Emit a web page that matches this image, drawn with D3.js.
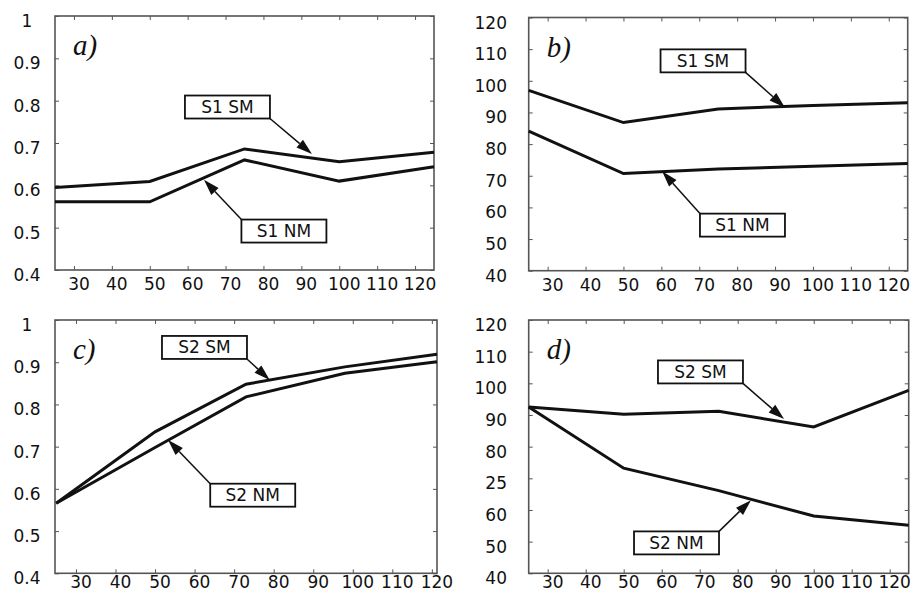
<!DOCTYPE html>
<html>
<head>
<meta charset="utf-8">
<script src="https://cdn.jsdelivr.net/npm/d3@7"></script>
<style>
  html, body { margin: 0; padding: 0; background: #fff; }
  svg { display: block; }
</style>
</head>
<body>
<svg id="chart" width="912" height="593"></svg>
<script>
// ---------- DATA ----------
const xAB = [25, 50, 75, 100, 125];
const xC  = [25, 50, 73, 98, 121.3];
const xD  = [25, 50, 75, 100, 125];

const aSM = [0.595, 0.609, 0.686, 0.656, 0.678];
const aNM = [0.561, 0.561, 0.660, 0.610, 0.644];
const bSM = [97.0, 86.8, 91.1, 92.2, 93.1];
const bNM = [84.1, 70.7, 72.1, 73.0, 73.9];
const cSM = [0.566, 0.735, 0.848, 0.889, 0.919];
const cNM = [0.566, 0.698, 0.818, 0.874, 0.901];
const dSM = [92.5, 90.2, 91.2, 86.2, 97.8];
const dNM = [92.5, 73.2, 66.1, 58.1, 55.2];

const xTicks = [30, 40, 50, 60, 70, 80, 90, 100, 110, 120];
const xTickLabels = ["30","40","50","60","70","80","90","100","110","120"];
const yTicksRatio = [0.4, 0.5, 0.6, 0.7, 0.8, 0.9, 1];
const yTickLabelsRatio = ["0.4","0.5","0.6","0.7","0.8","0.9","1"];
const yTicksPct = [40, 50, 60, 70, 80, 90, 100, 110, 120];
const yTickLabelsB = ["40","50","60","70","80","90","100","110","120"];
const yTickLabelsD = ["40","50","60","25","80","90","100","110","120"];

const panelNames = ["a", "b", "c", "d"];
const seriesNames = ["SM", "NM"];
const annotationLabels = [["S1 SM","S1 NM"],["S1 SM","S1 NM"],["S2 SM","S2 NM"],["S2 SM","S2 NM"]];
// annotation box centre (data) and arrow tip (data)
const annBox = [[[70.5,0.785],[85.4,0.492]], [[71.0,106.3],[81.4,54.4]], [[62.5,0.935],[74.7,0.585]], [[70.2,103.6],[63.9,49.6]]];
const annTip = [[[92.8,0.674],[64.3,0.613]], [[92.6,91.6],[60.2,71.4]], [[79.0,0.858],[53.3,0.716]], [[92.2,88.7],[83.5,63.1]]];

// ---------- LAYOUT ----------
const panels = [
  { name: "a", left: 55,    right: 434,   top: 16,   bottom: 270,   xd: [25, 125],     yd: [0.4, 1],  xs: xAB, sm: aSM, nm: aNM, yt: yTicksRatio, yl: yTickLabelsRatio, yAnchor: "middle", yLabX: 27 },
  { name: "b", left: 528.7, right: 907.7, top: 17.5, bottom: 270.7, xd: [25, 125],     yd: [40, 120], xs: xAB, sm: bSM, nm: bNM, yt: yTicksPct,   yl: yTickLabelsB,     yAnchor: "end",    yLabX: 507 },
  { name: "c", left: 55,    right: 437,   top: 320,  bottom: 573.3, xd: [24.7, 121.3], yd: [0.4, 1],  xs: xC,  sm: cSM, nm: cNM, yt: yTicksRatio, yl: yTickLabelsRatio, yAnchor: "middle", yLabX: 27 },
  { name: "d", left: 528.7, right: 908.7, top: 320,  bottom: 573.3, xd: [25, 125],     yd: [40, 120], xs: xD,  sm: dSM, nm: dNM, yt: yTicksPct,   yl: yTickLabelsD,     yAnchor: "end",    yLabX: 507 }
];

const svg = d3.select("#chart");
const axisColor = "#555";
const tickFont = "'DejaVu Sans', Arial, sans-serif";

panels.forEach((p, pi) => {
  const x = d3.scaleLinear().domain(p.xd).range([p.left, p.right]);
  const y = d3.scaleLinear().domain(p.yd).range([p.bottom, p.top]);
  const g = svg.append("g");

  // ticks (inward, all four sides) via d3 axes
  const tl = 4;
  g.append("g").attr("transform", `translate(0,${p.bottom})`)
    .call(d3.axisTop(x).tickValues(xTicks).tickSize(tl).tickFormat(""))
    .call(s => { s.select(".domain").remove(); s.selectAll("line").attr("stroke", axisColor); });
  g.append("g").attr("transform", `translate(0,${p.top})`)
    .call(d3.axisBottom(x).tickValues(xTicks).tickSize(tl).tickFormat(""))
    .call(s => { s.select(".domain").remove(); s.selectAll("line").attr("stroke", axisColor); });
  g.append("g").attr("transform", `translate(${p.left},0)`)
    .call(d3.axisRight(y).tickValues(p.yt).tickSize(tl).tickFormat(""))
    .call(s => { s.select(".domain").remove(); s.selectAll("line").attr("stroke", axisColor); });
  g.append("g").attr("transform", `translate(${p.right},0)`)
    .call(d3.axisLeft(y).tickValues(p.yt).tickSize(tl).tickFormat(""))
    .call(s => { s.select(".domain").remove(); s.selectAll("line").attr("stroke", axisColor); });

  // frame
  g.append("rect")
    .attr("x", p.left).attr("y", p.top)
    .attr("width", p.right - p.left).attr("height", p.bottom - p.top)
    .attr("fill", "none").attr("stroke", axisColor).attr("stroke-width", 1.6);

  // x tick labels
  g.selectAll(".xl").data(xTicks).join("text")
    .attr("x", d => x(d) + 5).attr("y", Math.min(p.bottom + 20, 588))
    .attr("text-anchor", "middle")
    .attr("font-family", tickFont).attr("font-size", 17).attr("fill", "#111")
    .text((d, i) => xTickLabels[i]);

  // y tick labels
  g.selectAll(".yl").data(p.yt).join("text")
    .attr("x", p.yLabX).attr("y", d => y(d) + 11)
    .attr("text-anchor", p.yAnchor)
    .attr("font-family", tickFont).attr("font-size", 17).attr("fill", "#111")
    .text((d, i) => p.yl[i]);

  // series lines
  const line = d3.line().x(d => x(d[0])).y(d => y(d[1]));
  [p.sm, p.nm].forEach(vals => {
    g.append("path")
      .datum(p.xs.map((xv, i) => [xv, vals[i]]))
      .attr("d", line)
      .attr("fill", "none").attr("stroke", "#111")
      .attr("stroke-width", 3).attr("stroke-linejoin", "miter");
  });

  // panel letter
  g.append("text")
    .attr("x", p.left + 18).attr("y", p.top + 39)
    .attr("font-family", "'Liberation Serif', 'Times New Roman', serif")
    .attr("font-style", "italic").attr("font-size", 29).attr("fill", "#111")
    .text(panelNames[pi] + ")");

  // annotations
  const bw = 85, bh = 23;
  seriesNames.forEach((sn, si) => {
    const bc = annBox[pi][si], tp = annTip[pi][si];
    const cx = x(bc[0]), cy = y(bc[1]);
    const tx = x(tp[0]), ty = y(tp[1]);
    const corners = [[cx - bw/2, cy - bh/2], [cx + bw/2, cy - bh/2], [cx - bw/2, cy + bh/2], [cx + bw/2, cy + bh/2]];
    let best = corners[0], bd = Infinity;
    corners.forEach(c => { const dd = (c[0]-tx)**2 + (c[1]-ty)**2; if (dd < bd) { bd = dd; best = c; } });
    const dx = tx - best[0], dy = ty - best[1], L = Math.hypot(dx, dy);
    const ux = dx / L, uy = dy / L;
    const hl = 16, hw = 5;
    const bx = tx - ux * hl, by = ty - uy * hl;
    g.append("line")
      .attr("x1", best[0]).attr("y1", best[1]).attr("x2", bx).attr("y2", by)
      .attr("stroke", "#111").attr("stroke-width", 1.5);
    g.append("path")
      .attr("d", `M${tx},${ty}L${bx - uy*hw},${by + ux*hw}L${bx + uy*hw},${by - ux*hw}Z`)
      .attr("fill", "#111");
    g.append("rect")
      .attr("x", cx - bw/2).attr("y", cy - bh/2).attr("width", bw).attr("height", bh)
      .attr("fill", "#fff").attr("stroke", "#111").attr("stroke-width", 1.8);
    g.append("text")
      .attr("x", cx).attr("y", cy + 6)
      .attr("text-anchor", "middle")
      .attr("font-family", tickFont).attr("font-size", 17).attr("fill", "#111")
      .text(annotationLabels[pi][si]);
  });
});
</script>
</body>
</html>
